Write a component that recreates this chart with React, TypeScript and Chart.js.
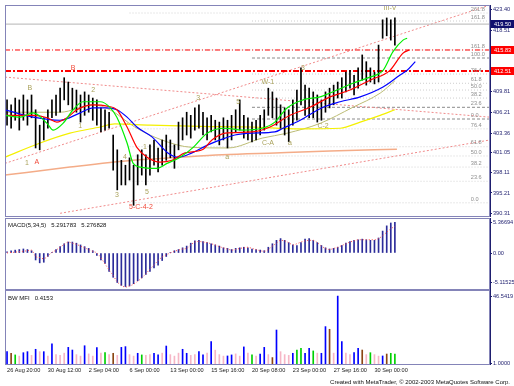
import React, { useEffect, useRef } from 'react';
import { Chart, registerables } from 'chart.js';

Chart.register(...registerables);

const FONT = '"Liberation Sans", Arial, sans-serif';
Chart.defaults.font.family = FONT;

// ---------- data ----------
const X_MIN = -0.5;
const X_MAX = 118.3;
const X_TICK_INDEX = [0, 10, 20, 30, 40, 50, 60, 70, 80, 90];
const X_TICK_LABELS = ['26 Aug 20:00', '30 Aug 12:00', '2 Sep 04:00', '6 Sep 00:00', '13 Sep 00:00', '15 Sep 16:00', '20 Sep 08:00', '23 Sep 00:00', '27 Sep 16:00', '30 Sep 00:00'];

const HIGH = [
  408.8, 408.0, 409.1, 408.8, 409.6, 408.8, 409.6, 407.2, 404.7, 405.9,
  407.2, 408.8, 409.6, 410.7, 412.4, 411.7, 410.7, 410.4, 409.6, 410.1,
  409.6, 409.1, 408.8, 407.5, 407.2, 406.8, 403.1, 400.7, 399.0, 398.2,
  399.4, 398.2, 399.9, 400.7, 399.9, 401.5, 402.3, 401.0, 402.3, 403.1,
  402.3, 401.5, 405.2, 405.9, 406.8, 406.3, 407.5, 408.0, 406.8, 405.9,
  406.3, 405.5, 405.2, 405.9, 405.5, 406.3, 407.2, 408.8, 406.3, 405.9,
  405.2, 405.5, 406.3, 407.2, 410.7, 410.1, 409.1, 408.0, 407.5, 407.2,
  408.8, 410.4, 414.0, 411.2, 410.7, 410.1, 409.6, 408.8, 410.1, 410.7,
  411.2, 411.7, 412.4, 413.3, 413.6, 412.8, 414.0, 416.1, 415.0, 414.0,
  413.3, 417.7, 421.8, 422.1, 421.8, 422.1,
];
const LOW = [
  404.7, 404.2, 405.5, 403.9, 405.5, 404.7, 405.9, 401.0, 400.7, 402.3,
  404.2, 405.9, 406.3, 406.8, 408.8, 408.0, 407.2, 406.8, 405.2, 406.3,
  406.8, 405.5, 404.7, 403.6, 403.9, 404.2, 397.4, 394.2, 395.0, 395.0,
  395.8, 391.7, 395.0, 396.6, 395.0, 396.6, 398.2, 397.1, 398.2, 399.0,
  399.4, 397.7, 400.7, 402.3, 403.1, 402.6, 403.9, 404.2, 403.1, 402.3,
  403.6, 402.3, 401.5, 402.3, 401.0, 402.3, 403.6, 403.9, 402.6, 402.3,
  402.0, 402.3, 403.1, 403.9, 406.3, 405.9, 404.7, 404.2, 403.1, 402.0,
  404.7, 405.5, 408.0, 406.3, 405.9, 405.9, 405.2, 405.5, 406.8, 407.5,
  408.0, 409.1, 409.1, 410.1, 410.7, 409.6, 410.7, 412.0, 411.2, 411.7,
  411.4, 411.7, 418.8, 419.2, 418.5, 417.7,
];

// moving averages: [bar index, price]
const MA_LIPS: [number, number][] = [
  [-0.5, 406.3], [3.2, 406.0], [6.4, 406.7], [9.8, 405.0], [11.3, 403.9], [13.7, 405.0], [16.2, 407.2],
  [18.6, 408.5], [22.8, 408.5], [25.2, 407.6], [26.9, 406.0], [29.4, 401.8], [30.9, 398.5], [32.6, 397.9],
  [36.7, 397.7], [39.2, 398.5], [42.4, 399.5], [45.6, 401.1], [49.0, 403.4], [53.4, 404.2], [57.6, 403.9],
  [62.5, 404.2], [65.6, 405.2], [68.6, 407.5], [72.5, 408.8], [76.7, 409.3], [80.8, 410.4], [84.7, 411.5],
  [88.9, 412.5], [92.1, 413.6], [94.5, 416.6], [97.0, 418.5], [98.0, 418.8],
];
const MA_TEETH: [number, number][] = [
  [-0.5, 406.3], [6.4, 406.3], [9.8, 405.9], [12.2, 405.2], [14.7, 405.9], [17.1, 407.2], [21.1, 408.0],
  [24.5, 407.8], [26.9, 407.2], [29.4, 404.4], [31.8, 401.1], [34.3, 399.5], [37.5, 398.7], [40.4, 399.0],
  [43.6, 400.2], [47.8, 400.7], [50.2, 402.3], [53.4, 403.4], [60.0, 403.6], [64.4, 404.4], [69.3, 406.3],
  [74.2, 407.6], [79.1, 409.3], [84.0, 410.4], [88.9, 412.0], [93.8, 413.6], [97.0, 416.4], [98.5, 416.9],
];
const MA_JAW: [number, number][] = [
  [-0.5, 407.2], [6.4, 406.0], [13.0, 405.5], [17.9, 406.7], [21.1, 407.5], [24.5, 407.5], [26.9, 407.2],
  [29.4, 406.0], [31.8, 404.4], [35.5, 402.8], [39.4, 400.2], [41.9, 399.5], [45.3, 400.2], [49.2, 401.5],
  [53.4, 402.6], [55.8, 403.1], [60.0, 403.4], [65.6, 403.6], [67.6, 404.2], [71.8, 405.5], [77.4, 407.6],
  [81.6, 408.5], [86.5, 409.3], [92.1, 410.9], [96.2, 412.8], [98.0, 413.6], [100.0, 415.0],
];
const MA_YELLOW: [number, number][] = [
  [-0.5, 399.5], [8.1, 401.8], [15.4, 403.4], [22.8, 404.4], [26.4, 404.9], [35.0, 404.7], [47.3, 404.5],
  [59.5, 404.4], [71.8, 404.1], [81.6, 404.2], [86.5, 405.2], [91.4, 406.3], [95.0, 407.2],
];
const MA_OLIVE: [number, number][] = [
  [-0.5, 406.8], [13.0, 406.8], [21.1, 408.0], [25.2, 407.2], [31.3, 404.4], [37.9, 402.3], [45.3, 401.1],
  [54.1, 401.0], [62.5, 402.6], [68.6, 403.4], [76.7, 405.0], [84.7, 407.6], [91.4, 409.9], [95.0, 411.9],
];
const MA_ORANGE: [number, number][] = [
  [-0.5, 396.6], [15.4, 397.9], [30.9, 399.0], [42.4, 399.5], [52.7, 399.9], [65.6, 400.2], [79.1, 400.5], [95.5, 400.8],
];

// trend lines: [x0, p0, x1, p1]
const TRENDS: [number, number, number, number][] = [
  [-0.5, 398.5, 118.3, 424.2],
  [-0.5, 412.5, 118.3, 406.0],
  [13.0, 390.4, 118.3, 402.3],
];

// fibonacci levels
const FIB1_START = 60;
const FIB1_TEXT = ['161.8', '100.0', '76.4', '61.8', '50.0', '38.2', '23.6', '0.0'];
const FIB1_PRICE = [421.6, 415.6, 413.0, 411.5, 410.4, 409.1, 407.6, 405.7];
const FIB2_START = 30;
const FIB2_TEXT = ['261.8', '161.8', '76.4', '61.8', '50.0', '38.2', '23.6', '0.0'];
const FIB2_PRICE = [422.9, 416.9, 404.1, 401.2, 399.7, 397.9, 395.6, 392.1];
const FIB_LABEL_X = 113.6;

const BID_PRICE = 421.1;
const RED_LEVELS = [416.9, 413.5];
const BADGE_PRICE = [421.1, 416.9, 413.5];
const BADGE_TEXT = ['419.50', '415.83', '412.51'];
const BADGE_KIND = ['n', 'r', 'r'];

const PRICE_MIN = 389.8;
const PRICE_MAX = 424.2;
const PRICE_TICK_VALUES = [423.4, 420.1, 410.1, 406.8, 403.4, 400.2, 397.1, 393.7, 390.3];
const PRICE_TICK_LABELS = ['423.40', '418.51', '409.81', '406.21', '403.36', '401.05', '398.11', '395.21', '390.31'];

// wave labels: [text, bar index, price, kind]
const WAVES: [string, number, number, string][] = [
  ['B', 5.6, 410.7, 'o'], ['1', 4.9, 398.5, 'o'], ['A', 7.3, 398.7, 'r'], ['B', 16.2, 414.0, 'r'],
  ['2', 21.1, 410.4, 'o'], ['1', 17.9, 404.5, 'o'], ['3', 26.9, 393.4, 'o'], ['4', 28.9, 399.5, 'o'],
  ['5-C-4-2', 32.8, 391.4, 'r'], ['5', 34.3, 393.9, 'o'], ['1', 33.8, 401.1, 'o'], ['3', 46.8, 409.1, 'o'],
  ['a', 53.9, 399.5, 'o'], ['5', 56.6, 408.5, 'o'], ['W-1', 63.9, 411.7, 'o'], ['C-A', 63.9, 401.8, 'o'],
  ['a', 69.3, 401.8, 'o'], ['3', 72.5, 414.0, 'o'], ['C-2', 77.4, 404.5, 'o'], ['III-V', 93.8, 423.7, 'o'],
];

// MACD
const MACD = [
  0.2, 0.4, 0.5, 0.6, 0.7, 0.6, 0.4, -1.2, -1.7, -1.6,
  -0.6, 0.1, 0.6, 1.1, 1.6, 1.9, 1.9, 1.7, 1.4, 1.1,
  0.8, 0.4, -0.4, -1.2, -1.8, -3.2, -4.2, -5.1, -5.6, -5.8,
  -5.7, -5.3, -4.8, -4.3, -3.7, -3.2, -2.6, -2.1, -1.3, -0.6,
  0.1, 0.4, 0.6, 0.9, 1.2, 1.7, 2.1, 2.2, 2.0, 1.8,
  1.6, 1.4, 1.2, 0.9, 0.8, 0.6, 0.8, 0.9, 1.0, 0.9,
  0.7, 0.6, 0.5, 0.4, 1.0, 1.6, 2.2, 2.5, 2.2, 1.8,
  1.4, 1.3, 1.8, 2.4, 2.5, 2.2, 1.8, 1.3, 0.9, 0.7,
  0.8, 1.0, 1.3, 1.7, 2.0, 2.2, 2.3, 2.4, 2.3, 2.2,
  2.2, 2.6, 3.8, 4.7, 5.2, 5.3,
];
const SIGNAL = [
  0.0, 0.1, 0.15, 0.23, 0.3, 0.4, 0.5, -0.6, -0.8, -1.0,
  -0.5, 0.1, 0.5, 1.0, 1.5, 1.9, 1.7, 1.5, 1.2, 0.9,
  0.6, 0.3, 0.0, -0.8, -1.9, -2.9, -3.9, -5.0, -5.6, -5.9,
  -5.7, -5.4, -4.9, -4.3, -3.6, -2.8, -2.1, -1.3, -0.7, -0.3,
  0.0, 0.3, 0.5, 0.7, 0.8, 1.4, 1.9, 2.0, 1.9, 1.8,
  1.6, 1.4, 1.1, 0.9, 0.7, 0.5, 0.6, 0.8, 0.9, 1.0,
  0.8, 0.6, 0.4, 0.3, 0.6, 1.2, 1.7, 2.2, 2.1, 1.8,
  1.4, 1.6, 1.9, 2.1, 2.2, 2.2, 1.8, 1.2, 0.8, 0.6,
  0.8, 1.0, 1.3, 1.6, 1.9, 2.1, 2.3, 2.3, 2.3, 2.3,
  2.3, 2.5, 3.0, 3.6, 4.2, 4.6,
];
const MACD_MIN = -6.4;
const MACD_MAX = 6.06;
const MACD_TICK_VALUES = [5.36694, 0, -5.11525];
const MACD_TICK_LABELS = ['5.36694', '0.00', '-5.11525'];
const MACD_TITLE = 'MACD(5,34,5)   5.291783   5.276828';

// BW MFI
const MFI = [
  9.0, 7.9, 6.8, 6.0, 8.3, 9.0, 6.5, 10.6, 9.0, 9.0,
  6.0, 14.2, 7.0, 6.5, 8.0, 11.9, 10.1, 7.0, 6.0, 13.0,
  7.5, 6.0, 11.7, 8.0, 8.3, 7.0, 7.9, 6.5, 11.9, 12.4,
  7.0, 6.0, 7.9, 6.8, 6.5, 7.0, 7.9, 6.8, 8.0, 12.8,
  7.0, 6.0, 8.0, 10.6, 7.9, 6.5, 7.0, 9.0, 6.8, 8.0,
  15.8, 10.0, 7.0, 6.0, 6.1, 6.8, 7.5, 6.0, 12.2, 8.0,
  6.8, 6.0, 7.4, 11.9, 7.0, 5.0, 23.6, 9.0, 7.0, 6.5,
  7.9, 10.1, 11.3, 7.9, 11.3, 9.5, 8.0, 7.9, 25.9, 24.1,
  8.0, 46.5, 15.8, 8.0, 7.0, 8.3, 11.3, 10.1, 7.0, 8.3,
  7.0, 6.0, 6.1, 7.4, 7.9, 7.4,
];
const MFI_KIND = [
  'b', 'r', 'g', 'p', 'b', 'b', 'p', 'b', 'p', 'b',
  'p', 'b', 'p', 'p', 'p', 'b', 'b', 'p', 'p', 'b',
  'p', 'p', 'b', 'p', 'g', 'p', 'r', 'p', 'b', 'b',
  'p', 'p', 'b', 'g', 'p', 'p', 'b', 'b', 'p', 'b',
  'p', 'p', 'p', 'b', 'b', 'p', 'p', 'b', 'b', 'p',
  'b', 'p', 'p', 'p', 'b', 'b', 'p', 'p', 'b', 'p',
  'g', 'p', 'b', 'b', 'p', 'r', 'b', 'p', 'p', 'p',
  'b', 'g', 'g', 'b', 'b', 'g', 'p', 'b', 'b', 'r',
  'p', 'b', 'b', 'p', 'p', 'b', 'b', 'r', 'p', 'g',
  'p', 'p', 'b', 'r', 'g', 'g',
];
const MFI_MAX = 50.6;
const MFI_TICK_VALUES = [46.5419, 1.0];
const MFI_TICK_LABELS = ['46.5419', '1.0000'];
const MFI_TITLE = 'BW MFI   0.4153';
const CREDIT = 'Created with MetaTrader, \u00A9 2002-2003 MetaQuotes Software Corp.';

// ---------- helpers ----------
const AXIS_COLOR = '#1e1e6e';
const BORDER_COLOR = '#8484b8';
const TICK_FONT = { size: 5.6, family: FONT };

function noPad(s: any) {
  s.paddingTop = 0;
  s.paddingBottom = 0;
  s.paddingLeft = 0;
  s.paddingRight = 0;
}

function xScale(display: boolean): any {
  return {
    type: 'linear',
    min: X_MIN,
    max: X_MAX,
    offset: false,
    display,
    grid: { display: false, drawTicks: false, offset: false },
    border: { display: false },
    afterBuildTicks: (s: any) => { s.ticks = X_TICK_INDEX.map((v) => ({ value: v })); },
    afterFit: (s: any) => { s.height = display ? 10 : 0; noPad(s); },
    ticks: {
      autoSkip: false, maxRotation: 0, minRotation: 0, align: 'start', padding: 2,
      color: '#1a1a1a', font: TICK_FONT,
      callback: (_v: any, i: number) => X_TICK_LABELS[i] ?? '',
    },
  };
}

function yScale(min: number, max: number, values: number[], labels: string[]): any {
  return {
    type: 'linear',
    position: 'right',
    min, max,
    beginAtZero: false,
    grid: { display: true, drawOnChartArea: false, drawTicks: true, tickLength: 2, color: AXIS_COLOR, tickColor: AXIS_COLOR },
    border: { display: false },
    afterBuildTicks: (s: any) => { s.ticks = values.map((v) => ({ value: v })); },
    afterFit: (s: any) => { s.width = 24; noPad(s); },
    ticks: {
      autoSkip: false, padding: 1, color: AXIS_COLOR, font: TICK_FONT,
      callback: (_v: any, i: number) => labels[i] ?? '',
    },
  };
}

function drawFrame(chart: any) {
  const { ctx, chartArea: a } = chart;
  ctx.save();
  ctx.strokeStyle = BORDER_COLOR;
  ctx.lineWidth = 1;
  ctx.strokeRect(Math.round(a.left) + 0.5, Math.round(a.top) + 0.5, Math.round(a.width) - 1, Math.round(a.height) - 1);
  ctx.strokeStyle = AXIS_COLOR;
  ctx.beginPath();
  ctx.moveTo(Math.round(a.right) + 0.5, a.top);
  ctx.lineTo(Math.round(a.right) + 0.5, a.bottom);
  ctx.stroke();
  ctx.restore();
}

const baseOptions = (padding: any) => ({
  animation: false,
  responsive: false,
  devicePixelRatio: 1,
  events: [],
  layout: { padding },
  plugins: { legend: { display: false }, tooltip: { enabled: false }, title: { display: false } },
});

function lineDs(points: [number, number][], color: string, width: number, order: number, extra: any = {}) {
  return {
    type: 'line',
    data: points.map(([x, y]) => ({ x, y })),
    borderColor: color,
    borderWidth: width,
    pointRadius: 0,
    tension: 0,
    cubicInterpolationMode: 'monotone',
    fill: false,
    order,
    ...extra,
  };
}

function mainConfig(): any {
  const datasets: any[] = [];
  FIB1_TEXT.forEach((t, k) => {
    const dark = t === '100.0' || t === '23.6' || t === '0.0';
    datasets.push(lineDs([[FIB1_START, FIB1_PRICE[k]], [X_MAX, FIB1_PRICE[k]]], dark ? '#8a8a8a' : '#cdcdcd', 1, 12, { borderDash: dark ? [3, 2] : [1, 2] }));
  });
  FIB2_TEXT.forEach((_t, k) => {
    datasets.push(lineDs([[FIB2_START, FIB2_PRICE[k]], [X_MAX, FIB2_PRICE[k]]], '#d2d2d2', 1, 12, { borderDash: [1, 2] }));
  });
  TRENDS.forEach(([x0, p0, x1, p1]) => {
    datasets.push(lineDs([[x0, p0], [x1, p1]], '#f08a8a', 1, 10, { borderDash: [2, 2] }));
  });
  datasets.push(lineDs([[X_MIN, BID_PRICE], [X_MAX, BID_PRICE]], '#b4b4b4', 1, 9));
  RED_LEVELS.forEach((p, k) => {
    datasets.push(lineDs([[X_MIN, p], [X_MAX, p]], '#ff0000', k === 1 ? 2 : 1, 8, { borderDash: k === 1 ? [6, 2, 2, 2] : [5, 2, 1, 2] }));
  });
  datasets.push(lineDs(MA_ORANGE, '#f4ac88', 1.5, 7));
  datasets.push(lineDs(MA_YELLOW, '#f4f000', 1.2, 6));
  datasets.push(lineDs(MA_OLIVE, '#bcbc74', 1, 6));
  datasets.push({
    type: 'bar',
    data: HIGH.map((h, i) => ({ x: i, y: [LOW[i], h] })),
    backgroundColor: '#000000',
    barThickness: 1,
    grouped: false,
    order: 4,
  });
  datasets.push(lineDs(MA_JAW, '#0000ff', 1.2, 3));
  datasets.push(lineDs(MA_TEETH, '#ff0000', 1.2, 2));
  datasets.push(lineDs(MA_LIPS, '#00ee00', 1.2, 1));

  const deco = {
    id: 'mainDeco',
    afterDatasetsDraw(chart: any) {
      const { ctx, scales: { x, y } } = chart;
      ctx.save();
      ctx.font = `5.6px ${FONT}`;
      ctx.fillStyle = '#8e8e8e';
      ctx.textAlign = 'left';
      ctx.textBaseline = 'bottom';
      FIB1_TEXT.forEach((t, k) => ctx.fillText(t, x.getPixelForValue(FIB_LABEL_X), y.getPixelForValue(FIB1_PRICE[k]) - 1));
      FIB2_TEXT.forEach((t, k) => ctx.fillText(t, x.getPixelForValue(FIB_LABEL_X), y.getPixelForValue(FIB2_PRICE[k]) - 1));
      ctx.font = `7px ${FONT}`;
      ctx.textAlign = 'center';
      ctx.textBaseline = 'middle';
      WAVES.forEach(([t, i, p, kind]) => {
        ctx.fillStyle = kind === 'r' ? '#f04a3a' : '#aaa25c';
        ctx.fillText(t, x.getPixelForValue(i), y.getPixelForValue(p));
      });
      ctx.restore();
    },
    afterDraw(chart: any) {
      drawFrame(chart);
      const { ctx, chartArea: a, scales: { y } } = chart;
      ctx.save();
      ctx.font = `5.6px ${FONT}`;
      ctx.textAlign = 'left';
      ctx.textBaseline = 'middle';
      BADGE_PRICE.forEach((p, k) => {
        const py = Math.round(y.getPixelForValue(p));
        ctx.fillStyle = BADGE_KIND[k] === 'n' ? '#10106e' : '#ff0000';
        ctx.fillRect(a.right + 1, py - 4, 24, 8);
        ctx.fillStyle = '#ffffff';
        ctx.fillText(BADGE_TEXT[k], a.right + 4, py + 0.5);
      });
      ctx.restore();
    },
  };

  return {
    type: 'bar',
    data: { datasets },
    options: {
      ...baseOptions({ left: 5, right: 0, top: 5, bottom: 1 }),
      scales: { x: xScale(false), y: yScale(PRICE_MIN, PRICE_MAX, PRICE_TICK_VALUES, PRICE_TICK_LABELS) },
    },
    plugins: [deco],
  };
}

function macdConfig(): any {
  const deco = {
    id: 'macdDeco',
    afterDraw(chart: any) {
      drawFrame(chart);
      const { ctx, chartArea: a } = chart;
      ctx.save();
      ctx.font = `6px ${FONT}`;
      ctx.fillStyle = '#111111';
      ctx.textAlign = 'left';
      ctx.textBaseline = 'middle';
      ctx.fillText(MACD_TITLE, a.left + 3, a.top + 7);
      ctx.restore();
    },
  };
  return {
    type: 'bar',
    data: {
      datasets: [
        lineDs(SIGNAL.map((v, i) => [i, v] as [number, number]), '#ff4a4a', 1, 1, { borderDash: [1, 2] }),
        {
          type: 'bar',
          data: MACD.map((v, i) => ({ x: i, y: v })),
          backgroundColor: '#2c2c9a',
          barThickness: 1,
          grouped: false,
          order: 2,
        },
      ],
    },
    options: {
      ...baseOptions({ left: 5, right: 0, top: 1, bottom: 0 }),
      scales: { x: xScale(false), y: yScale(MACD_MIN, MACD_MAX, MACD_TICK_VALUES, MACD_TICK_LABELS) },
    },
    plugins: [deco],
  };
}

const MFI_COLORS: Record<string, string> = { b: '#0000ff', g: '#00d000', r: '#8b4513', p: '#f6b6c6' };

function mfiConfig(): any {
  const deco = {
    id: 'mfiDeco',
    afterDraw(chart: any) {
      drawFrame(chart);
      const { ctx, chartArea: a } = chart;
      ctx.save();
      ctx.font = `6px ${FONT}`;
      ctx.fillStyle = '#111111';
      ctx.textAlign = 'left';
      ctx.textBaseline = 'middle';
      ctx.fillText(MFI_TITLE, a.left + 3, a.top + 8);
      ctx.textAlign = 'right';
      ctx.fillText(CREDIT, 510, 92);
      ctx.restore();
    },
  };
  return {
    type: 'bar',
    data: {
      datasets: [
        {
          type: 'bar',
          data: MFI.map((v, i) => ({ x: i, y: v })),
          backgroundColor: MFI_KIND.map((k) => MFI_COLORS[k]),
          barThickness: 1,
          grouped: false,
        },
      ],
    },
    options: {
      ...baseOptions({ left: 5, right: 0, top: 0, bottom: 11 }),
      scales: { x: xScale(true), y: yScale(0, MFI_MAX, MFI_TICK_VALUES, MFI_TICK_LABELS) },
    },
    plugins: [deco],
  };
}

export default function App() {
  const r1 = useRef<HTMLCanvasElement>(null);
  const r2 = useRef<HTMLCanvasElement>(null);
  const r3 = useRef<HTMLCanvasElement>(null);

  useEffect(() => {
    const c1 = new Chart(r1.current as HTMLCanvasElement, mainConfig());
    const c2 = new Chart(r2.current as HTMLCanvasElement, macdConfig());
    const c3 = new Chart(r3.current as HTMLCanvasElement, mfiConfig());
    return () => { c1.destroy(); c2.destroy(); c3.destroy(); };
  }, []);

  return (
    <div style={{ position: 'absolute', left: 0, top: 0, width: 514, height: 386, background: '#ffffff', overflow: 'hidden' }}>
      <canvas ref={r1} width={514} height={218} style={{ position: 'absolute', left: 0, top: 0 }} />
      <canvas ref={r2} width={514} height={73} style={{ position: 'absolute', left: 0, top: 217 }} />
      <canvas ref={r3} width={514} height={96} style={{ position: 'absolute', left: 0, top: 290 }} />
    </div>
  );
}
